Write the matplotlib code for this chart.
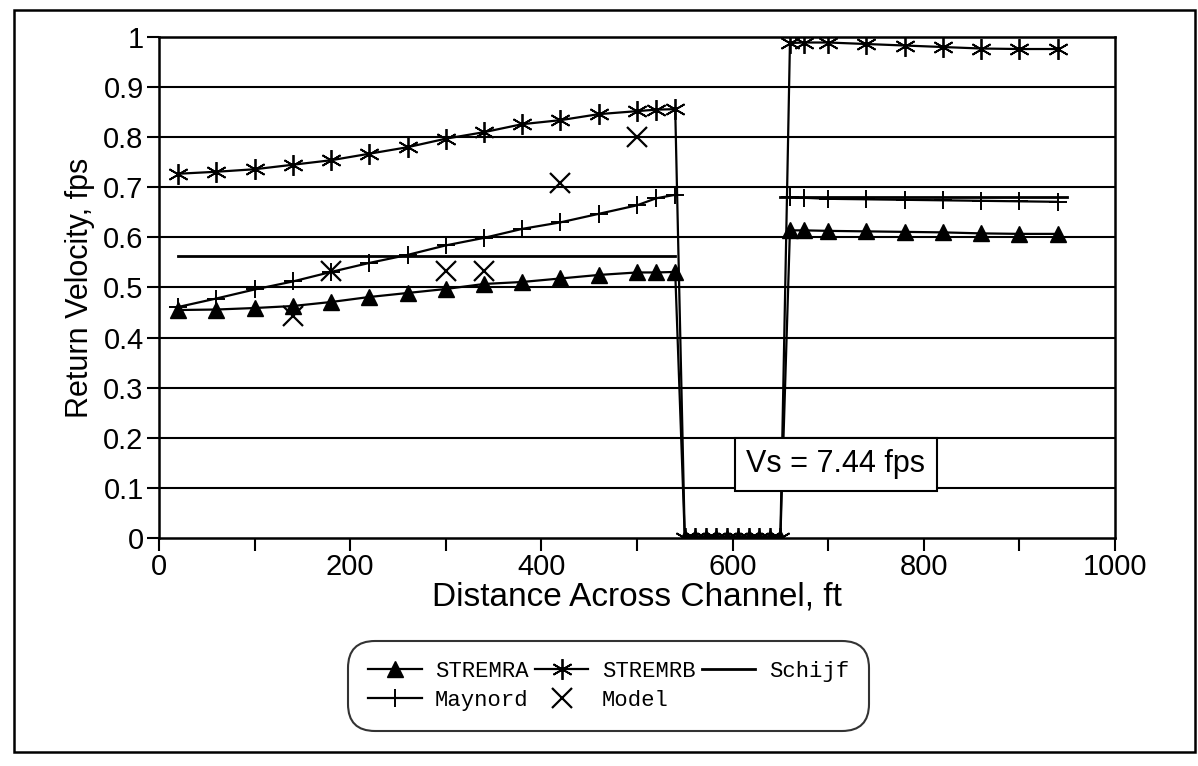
import numpy as np
import matplotlib
matplotlib.use("Agg")
import matplotlib.pyplot as plt
from matplotlib.ticker import MultipleLocator
from matplotlib.patches import Rectangle

# distance across channel, ft
dist = [20, 60, 100, 140, 180, 220, 260, 300, 340, 380, 420, 460, 500, 520, 540,
        550, 561, 572, 583, 594, 606, 617, 628, 639, 650,
        660, 675, 700, 740, 780, 820, 860, 900, 940]

stremra = [0.455, 0.456, 0.459, 0.463, 0.471, 0.481, 0.489, 0.497, 0.507, 0.511,
           0.518, 0.525, 0.530, 0.530, 0.531,
           0, 0, 0, 0, 0, 0, 0, 0, 0, 0,
           0.614, 0.614, 0.613, 0.612, 0.611, 0.610, 0.608, 0.607, 0.607]

stremrb = [0.727, 0.731, 0.736, 0.745, 0.754, 0.767, 0.780, 0.797, 0.810, 0.826,
           0.834, 0.846, 0.852, 0.855, 0.856,
           0, 0, 0, 0, 0, 0, 0, 0, 0, 0,
           0.988, 0.989, 0.989, 0.986, 0.983, 0.980, 0.977, 0.976, 0.976]

maynord_left_x = [20, 60, 100, 140, 180, 220, 260, 300, 340, 380, 420, 460, 500, 520, 540]
maynord_left = [0.461, 0.478, 0.496, 0.512, 0.531, 0.549, 0.565, 0.584, 0.599, 0.617,
                0.630, 0.647, 0.664, 0.678, 0.685]
maynord_right_x = [660, 675, 700, 740, 780, 820, 860, 900, 940]
maynord_right = [0.680, 0.679, 0.677, 0.676, 0.675, 0.674, 0.673, 0.672, 0.671]

schijf_left_x = [20, 540]
schijf_left = [0.562, 0.562]
schijf_right_x = [650, 950]
schijf_right = [0.681, 0.681]

model_x = [140, 180, 300, 340, 420, 500]
model = [0.443, 0.533, 0.533, 0.533, 0.708, 0.800]

yticks = [0, 0.1, 0.2, 0.3, 0.4, 0.5, 0.6, 0.7, 0.8, 0.9, 1.0]
ytick_labels = ["0", "0.1", "0.2", "0.3", "0.4", "0.5", "0.6", "0.7", "0.8", "0.9", "1"]

plt.rcParams['font.family'] = ['Liberation Sans', 'DejaVu Sans']

fig = plt.figure(figsize=(11.98, 7.66), dpi=100)
ax = fig.add_axes([0.1327, 0.2977, 0.798, 0.654])

for v in yticks[1:]:
    ax.axhline(v, color='black', lw=1.5, zorder=1)

lw = 1.6
h_a, = ax.plot(dist, stremra, color='black', lw=lw, marker='^', ms=11,
               mfc='black', mec='black', zorder=3)
h_b, = ax.plot(dist, stremrb, color='black', lw=lw, marker=(6, 2, 0), ms=15,
               mew=1.3, zorder=3)
h_s, = ax.plot(schijf_left_x, schijf_left, color='black', lw=2, zorder=3)
ax.plot(schijf_right_x, schijf_right, color='black', lw=2, zorder=3)
h_m, = ax.plot(maynord_left_x, maynord_left, color='black', lw=lw, marker='+',
               ms=13, mew=1.4, zorder=3)
ax.plot(maynord_right_x, maynord_right, color='black', lw=lw, marker='+',
        ms=13, mew=1.4, zorder=3)
h_x, = ax.plot(model_x, model, ls='none', color='black', marker='x', ms=14,
               mew=1.6, zorder=3)

ax.text(708, 0.147, "Vs = 7.44 fps", fontsize=22, ha='center', va='center',
        zorder=5,
        bbox=dict(boxstyle='square,pad=0.38', fc='white', ec='black', lw=1.5))

ax.set_xlim(0, 1000)
ax.set_ylim(0, 1)
ax.xaxis.set_major_locator(MultipleLocator(200))
ax.xaxis.set_minor_locator(MultipleLocator(100))
ax.set_yticks(yticks, ytick_labels)
ax.tick_params(axis='both', which='both', direction='out', width=1.5, color='black')
ax.tick_params(axis='both', which='major', length=9, labelsize=21, pad=2)
ax.tick_params(axis='x', which='minor', length=9)
for s in ax.spines.values():
    s.set_linewidth(1.8)

ax.set_xlabel("Distance Across Channel, ft", fontsize=24, labelpad=0)
ax.set_ylabel("Return Velocity, fps", fontsize=22, labelpad=6)

leg = fig.legend([h_a, h_m, h_b, h_x, h_s],
                 ["STREMRA", "Maynord", "STREMRB", "Model", "Schijf"],
                 ncol=3, loc='upper center', bbox_to_anchor=(0.508, 0.172),
                 prop={'family': 'Liberation Mono', 'size': 16},
                 handlelength=2.4, handletextpad=0.6, columnspacing=0.3,
                 labelspacing=0.35, borderpad=0.7, frameon=True, fancybox=True)
fr = leg.get_frame()
fr.set_edgecolor('black')
fr.set_linewidth(1.5)
fr.set_boxstyle('round,pad=0.2,rounding_size=1.2')

fig.patches.append(Rectangle((14 / 1198, 1 - 752 / 766), 1181 / 1198, 742 / 766,
                             transform=fig.transFigure, fill=False,
                             ec='black', lw=1.8))

fig.savefig("out.png", dpi=100)
